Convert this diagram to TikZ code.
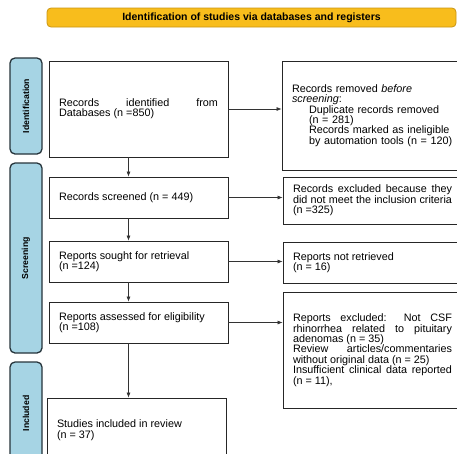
\documentclass[tikz,border=0pt]{standalone}
\usepackage{fontspec}
\setmainfont{Liberation Sans}
\usepackage{xcolor}
\usetikzlibrary{arrows.meta}
\definecolor{headfill}{HTML}{F8BD1C}
\definecolor{headline}{HTML}{C99512}
\definecolor{sidefill}{HTML}{A6D4E4}
\definecolor{sideline}{HTML}{26343B}

\begin{document}
\begin{tikzpicture}[x=1pt, y=-1pt,
  box/.style={rectangle, draw=black!85, line width=0.8pt, text width=159pt, inner xsep=10pt,
    minimum height=#1, align=justify, font=\fontsize{10.8}{10.4}\selectfont, anchor=center},
  side/.style={rectangle, rounded corners=5pt, draw=sideline, line width=1.3pt, fill=sidefill,
    minimum width=32pt, minimum height=#1, anchor=center},
  sidetext/.style={rotate=90, font=\fontsize{8.7}{9}\selectfont\bfseries},
  flow/.style={-{Latex[length=5pt,width=4pt]}, draw=black!80, line width=0.7pt}]
  \clip (0,0) rectangle (457,453);

  \node[rectangle, rounded corners=4pt, draw=headline, line width=0.8pt, fill=headfill,
    minimum width=409pt, minimum height=19pt, font=\fontsize{10.5}{10.5}\selectfont\bfseries]
    (head) at (251.5,17.5) {Identification of studies via databases and registers};

  \node[side=96pt]  (idlab)  at (26,106)   {};
  \node[sidetext]   at (idlab)  {Identification};
  \node[side=190pt] (scrlab) at (26,258)   {};
  \node[sidetext]   at (scrlab) {Screening};
  \node[side=103pt] (inclab) at (26,413.5) {};
  \node[sidetext]   at (inclab) {Included};

  \node[box=96pt] (ident) at (138.5,109) {Records identified from\linebreak Databases (n =850)};
  \node[box=109pt, align=left, text width=175pt] (removed) at (379.5,115.5) {Records removed \textit{before}\\
    \textit{screening}:\\
    \hspace*{17pt}Duplicate records removed\\
    \hspace*{17pt}(n = 281)\\
    \hspace*{17pt}Records marked as ineligible\\
    \hspace*{17pt}by automation tools (n = 120)};
  \node[box=41pt] (screened) at (138.5,197.5) {Records screened (n = 449)};
  \node[box=47pt] (excl) at (372.5,200.5) {Records excluded because they\linebreak did not meet the inclusion criteria\linebreak (n =325)};
  \node[box=41pt] (sought) at (138.5,261.5) {Reports sought for retrieval\\ (n =124)};
  \node[box=41pt] (notret) at (372.5,262.5) {Reports not retrieved\\ (n = 16)};
  \node[box=41pt] (assessed) at (138.5,322.5) {Reports assessed for eligibility\\ (n =108)};
  \node[box=116pt] (repexcl) at (372.5,350) {Reports excluded: Not CSF\linebreak rhinorrhea related to pituitary\linebreak adenomas (n = 35)\\
    Review articles/commentaries\linebreak without original data (n = 25)\\
    Insufficient clinical data reported\linebreak (n = 11),};
  \node[box=64pt] (incl) at (136.5,430) {Studies included in review\\ (n = 37)};

  \coordinate (ax) at (128.5,0);
  \draw[flow] (ident.south -| ax) -- (screened.north -| ax);
  \draw[flow] (screened.south -| ax) -- (sought.north -| ax);
  \draw[flow] (sought.south -| ax) -- (assessed.north -| ax);
  \draw[flow] (assessed.south -| ax) -- (incl.north -| ax);

  \draw[flow] (ident.east) -- (ident.east -| removed.west);
  \draw[flow] (screened.east) -- (screened.east -| excl.west);
  \draw[flow] (sought.east) -- (sought.east -| notret.west);
  \draw[flow] (assessed.east) -- (assessed.east -| repexcl.west);
\end{tikzpicture}
\end{document}
